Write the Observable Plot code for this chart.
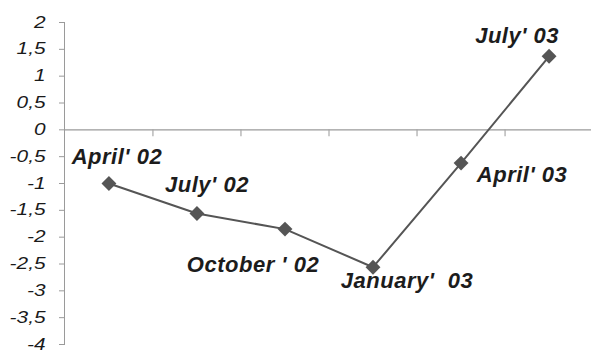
<!DOCTYPE html>
<html>
<head>
<meta charset="utf-8">
<script src="https://cdn.jsdelivr.net/npm/d3@7"></script>
<script src="https://cdn.jsdelivr.net/npm/@observablehq/plot@0.6"></script>
<style>
  html, body { margin: 0; padding: 0; background: #fff; overflow: hidden; }
  #chart svg { display: block; font-family: "Liberation Sans", Arial, sans-serif; overflow: visible; }
  #chart .period-label { letter-spacing: 0.5px; white-space: pre; }
</style>
</head>
<body>
<div id="chart"></div>
<script>
// Quarterly periods and their values
const periods = ["April' 02", "July' 02", "October ' 02", "January'\u00a0 03", "April' 03", "July' 03"];
const values = [-1.0, -1.56, -1.85, -2.56, -0.62, 1.37];
const yTicks = [2, 1.5, 1, 0.5, 0, -0.5, -1, -1.5, -2, -2.5, -3, -3.5, -4];

const data = periods.map((p, i) => ({i, period: p, value: values[i]}));
// boundaries between consecutive periods, drawn as small ticks on the zero line
const boundaries = d3.range(periods.length - 1).map(i => i + 0.5);

// label placement relative to each marker (dx, dy in pixels)
const labelShift = [
  [8, -20], [10, -22], [-32, 43], [34, 21], [61, 19], [-32, -13]
];

const font = "Liberation Sans, Arial, sans-serif";
const ink = "#555555";

const chart = Plot.plot({
  width: 591,
  height: 351,
  marginTop: 22,
  marginBottom: 7,
  marginLeft: 64,
  marginRight: 0,
  x: {type: "linear", domain: [-0.5, periods.length - 0.5], range: [64.4, 592.6], axis: null},
  y: {domain: [-4, 2], range: [344, 22], label: null, axis: null},
  marks: [
    Plot.frame({anchor: "left", stroke: "#9a9a9a", strokeOpacity: 1}),
    Plot.ruleY([0], {stroke: "#9a9a9a", strokeWidth: 1.2}),
    Plot.ruleX(boundaries, {x: d => d, y1: 0, y2: 0, insetBottom: -7, stroke: "#a8a8a8", strokeWidth: 1.2}),
    Plot.axisY(yTicks, {
      tickSize: 5,
      stroke: "#9a9a9a",
      text: null,
      label: null
    }),
    // tick labels, comma decimal separator
    Plot.text(yTicks, {
      y: d => d,
      text: d => String(d).replace(".", ","),
      frameAnchor: "left",
      textAnchor: "end",
      dx: -19,
      fill: "#1a1a1a",
      fontSize: 16,
      fontStyle: "italic",
      fontFamily: font,
      className: "ytick-label"
    }),
    Plot.line(data, {x: "i", y: "value", stroke: ink, strokeWidth: 2}),
    Plot.dot(data, {x: "i", y: "value", symbol: "diamond2", r: 6.7, fill: ink, stroke: "none"}),
    ...data.map((d, k) => Plot.text([d], {
      x: "i", y: "value", text: "period",
      dx: labelShift[k][0], dy: labelShift[k][1],
      lineAnchor: "bottom", textAnchor: "middle",
      fontSize: 22, fontWeight: "bold", fontStyle: "italic", fontFamily: font,
      fill: "#1c1c1c", className: "period-label"
    }))
  ]
});

document.getElementById("chart").appendChild(chart);

// the tick labels use a wide, stretched face
d3.select(chart).selectAll(".ytick-label text").each(function () {
  const w = this.getComputedTextLength();
  this.setAttribute("textLength", (w * 1.3).toFixed(1));
  this.setAttribute("lengthAdjust", "spacingAndGlyphs");
});
</script>
</body>
</html>
